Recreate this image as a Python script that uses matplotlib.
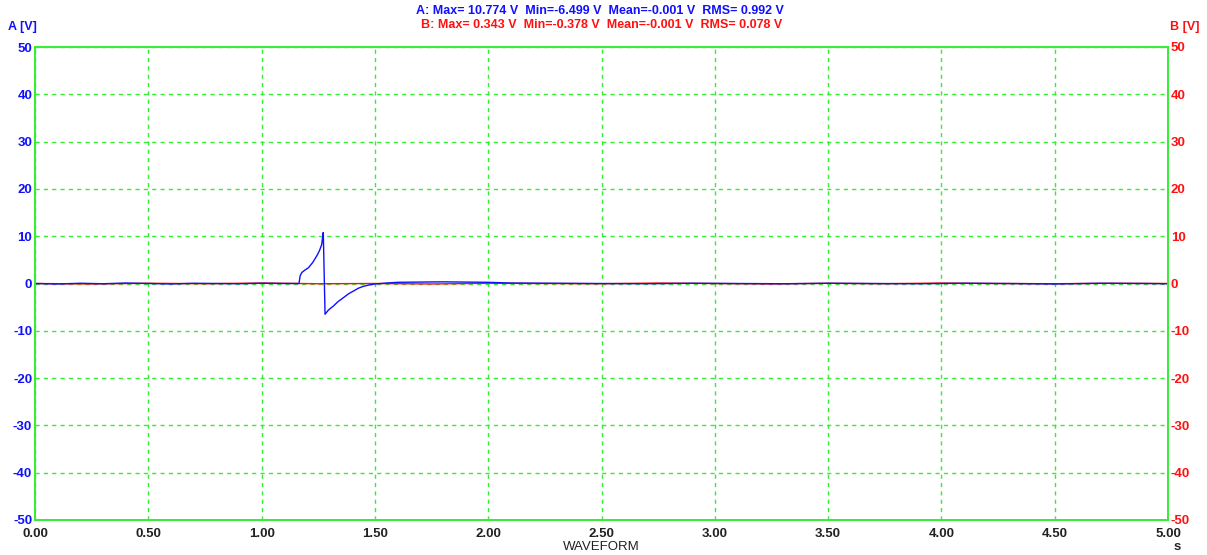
import matplotlib.pyplot as plt

# Canal A (bleu) : impulsion autour de 1.2 s
t_a = [0.00, 0.10, 0.20, 0.30, 0.40, 0.50, 0.60, 0.70, 0.80, 0.90, 1.00, 1.10, 1.165,
       1.170, 1.177, 1.19, 1.206, 1.225, 1.243, 1.255, 1.265, 1.272, 1.2725,
       1.280, 1.295, 1.316, 1.338, 1.361, 1.383, 1.405, 1.427, 1.449, 1.475, 1.50,
       1.55, 1.60, 1.70, 1.80, 1.90, 2.00, 2.10, 2.30, 2.50, 2.70, 2.90, 3.10, 3.30,
       3.50, 3.70, 3.90, 4.10, 4.30, 4.50, 4.70, 4.90, 5.00]
v_a = [0.0, -0.1, 0.05, -0.05, 0.1, 0.0, -0.1, 0.05, 0.0, -0.05, 0.05, 0.0, 0.0,
       1.6, 2.3, 2.8, 3.3, 4.4, 5.8, 6.9, 8.2, 10.77, 10.2,
       -6.5, -5.6, -4.8, -3.8, -3.0, -2.2, -1.6, -1.0, -0.6, -0.3, -0.1,
       0.1, 0.25, 0.3, 0.35, 0.3, 0.25, 0.1, 0.05, 0.0, -0.05, 0.05, 0.0, -0.05,
       0.05, 0.0, -0.05, 0.05, 0.0, -0.1, 0.05, 0.0, -0.05]

# Canal B (rouge) : bruit autour de 0
t_b = [0.00, 0.25, 0.50, 0.75, 1.00, 1.25, 1.50, 1.75, 2.00, 2.25, 2.50, 2.75,
       3.00, 3.25, 3.50, 3.75, 4.00, 4.25, 4.50, 4.75, 5.00]
v_b = [0.0, -0.1, 0.05, -0.05, 0.1, -0.05, 0.0, -0.1, 0.05, 0.0, -0.05, 0.1,
       0.0, -0.1, 0.05, -0.05, 0.1, 0.0, -0.05, 0.05, 0.0]

x_ticks = [0.0, 0.5, 1.0, 1.5, 2.0, 2.5, 3.0, 3.5, 4.0, 4.5, 5.0]
y_ticks = [-50, -40, -30, -20, -10, 0, 10, 20, 30, 40, 50]

header_a = "A: Max= 10.774 V  Min=-6.499 V  Mean=-0.001 V  RMS= 0.992 V"
header_b = "B: Max= 0.343 V  Min=-0.378 V  Mean=-0.001 V  RMS= 0.078 V"

plt.rcParams['font.family'] = ['Liberation Sans', 'DejaVu Sans']

vert = '#33ee33'
bleu = '#1010ff'
rouge = '#ff1010'
fs = 9

fig = plt.figure(figsize=(12.07, 5.55), dpi=100)
ax = fig.add_axes([35/1207, 1 - 520/555, (1168 - 35)/1207, (520 - 47)/555])

ax.plot(t_b, v_b, color=rouge, lw=1.0)
ax.plot(t_a, v_a, color=bleu, lw=1.0)

ax.set_xlim(0, 5)
ax.set_ylim(-50, 50)
ax.set_xticks(x_ticks)
ax.set_yticks(y_ticks)
ax.set_xticklabels(['%.2f' % x for x in x_ticks], fontsize=fs + 0.5, fontweight='bold', color='#222222')
ax.set_yticklabels([str(y) for y in y_ticks], fontsize=fs + 0.5, fontweight='bold', color=bleu)
ax.tick_params(axis='x', length=0, pad=6)
ax.tick_params(axis='y', length=0, pad=2)
ax.grid(True, color=vert, ls=(0, (3, 3)), lw=1.0)
for s in ax.spines.values():
    s.set_color(vert)
    s.set_linewidth(1.2)

ax2 = ax.twinx()
ax2.set_ylim(-50, 50)
ax2.set_yticks(y_ticks)
ax2.set_yticklabels([str(y) for y in y_ticks], fontsize=fs + 0.5, fontweight='bold', color=rouge)
ax2.tick_params(length=0, pad=2)
for s in ax2.spines.values():
    s.set_color(vert)
    s.set_linewidth(1.2)

fig.text(600/1207, 1 - 11/555, header_a, color=bleu, fontsize=fs, fontweight='bold', ha='center', va='center')
fig.text(602/1207, 1 - 25/555, header_b, color=rouge, fontsize=fs, fontweight='bold', ha='center', va='center')
fig.text(8/1207, 1 - 27/555, "A [V]", color=bleu, fontsize=fs, fontweight='bold', ha='left', va='center')
fig.text(1170/1207, 1 - 27/555, "B [V]", color=rouge, fontsize=fs, fontweight='bold', ha='left', va='center')
fig.text(601/1207, 1 - 546.5/555, "WAVEFORM", color='#222222', fontsize=fs + 0.5, ha='center', va='center')
fig.text(1177/1207, 1 - 547/555, "s", color='#222222', fontsize=fs + 0.5, fontweight='bold', ha='center', va='center')

fig.savefig('out.png', dpi=100)
